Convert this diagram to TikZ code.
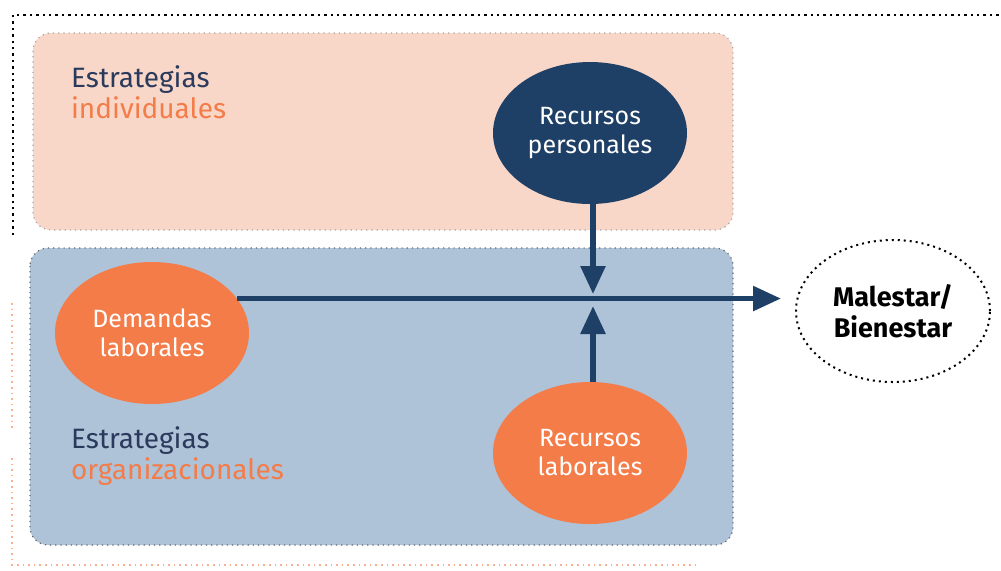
\documentclass[tikz,border=0pt]{standalone}
\usepackage{fontspec}
\setmainfont{Fira Sans}
\usetikzlibrary{shapes.geometric,arrows.meta}
\definecolor{navy}{HTML}{1E3F66}
\definecolor{inknavy}{HTML}{2A3A5C}
\definecolor{coral}{HTML}{F47C48}
\definecolor{peach}{HTML}{F8D6C8}
\definecolor{steel}{HTML}{AEC2D8}
\tikzset{
  panel/.style={rounded corners=9pt, dotted, line width=0.6pt},
  bubble/.style={ellipse, minimum width=97pt, minimum height=71pt, align=center,
                 font=\fontsize{12.5}{14.5}\selectfont, inner sep=0pt},
  flow/.style={draw=navy, line width=2.8pt, -{Triangle[length=14pt,width=12pt]}},
}
\begin{document}
\begin{tikzpicture}[x=0.5pt,y=-0.5pt]
    \useasboundingbox (0,0) rectangle (1001,570);
    % frames
    \draw[black, dotted, line width=1.2pt] (13,235) -- (13,15) -- (1001,15);
    \draw[coral!60, dotted, line width=0.8pt] (12,303) -- (12,428);
    \draw[coral!60, dotted, line width=0.8pt] (12,458) -- (12,565) -- (700,565);

    % panels
    \draw[panel, draw=gray!70, fill=peach] (33,33) rectangle (733,230);
    \draw[panel, draw=gray!80!black, fill=steel] (30,248) rectangle (733,545);

    % labels
    \node[anchor=north west, align=left, font=\fontsize{14}{15.5}\selectfont]
        (indiv) at (64,59) {\textcolor{inknavy}{Estrategias}\\\textcolor{coral}{individuales}};
    \node[anchor=north west, align=left, font=\fontsize{14}{15.5}\selectfont]
        (orga) at (64,420) {\textcolor{inknavy}{Estrategias}\\\textcolor{coral}{organizacionales}};

    % bubbles
    \node[bubble, fill=navy, text=white] (rp) at (590,133) {Recursos\\personales};
    \node[bubble, fill=coral, text=white] (dl) at (152,333) {Demandas\\laborales};
    \node[bubble, fill=coral, text=white] (rl) at (590,453) {Recursos\\laborales};
    \node[bubble, draw=black, dotted, line width=1pt, text=black,
          font=\fontsize{13.5}{15.5}\selectfont\bfseries] (mb) at (893,311) {Malestar/\\Bienestar};

    % arrows
    \coordinate (hubtop) at (593,294);
    \coordinate (hubbot) at (593,306);
    \draw[flow] (rp.south -| hubtop) -- (hubtop);
    \draw[flow] (rl.north -| hubbot) -- (hubbot);
    \draw[flow, shorten >=7pt] (dl.22) -- (dl.22 -| mb.west);
\end{tikzpicture}
\end{document}
